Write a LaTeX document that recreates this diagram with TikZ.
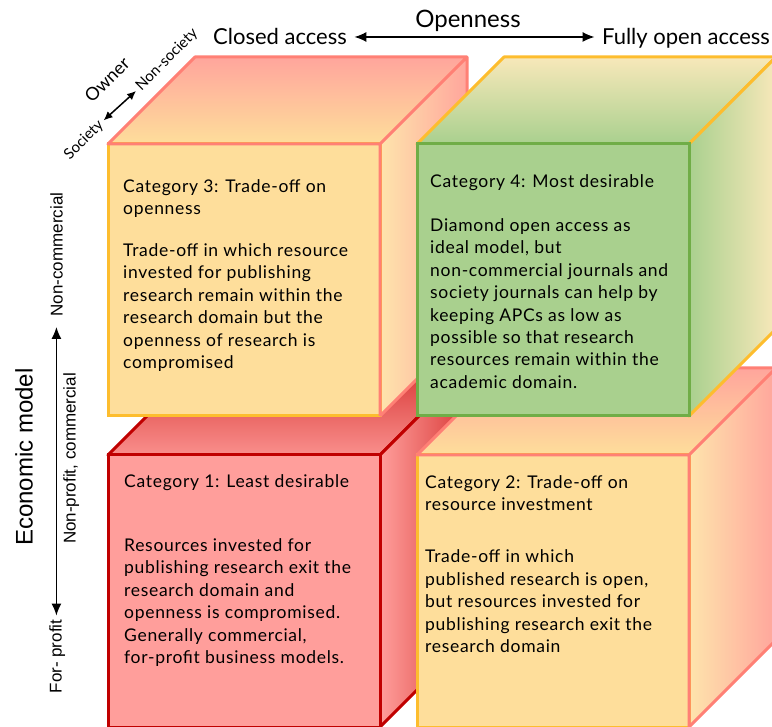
\documentclass[tikz,border=0pt]{standalone}
\usepackage{fontspec}
\setmainfont{Lato}
\newfontfamily\bodyfont[LetterSpace=4]{Lato}
\newfontfamily\arialfont{Liberation Sans}
\usetikzlibrary{positioning,arrows.meta}

\definecolor{gold}{HTML}{FDBD2E}
\definecolor{salmon}{HTML}{FF8075}
\definecolor{leaf}{HTML}{70AD47}
\definecolor{wine}{HTML}{C00000}
\definecolor{sand}{HTML}{FEDE9B}
\definecolor{cream}{HTML}{FEEEC6}
\definecolor{blush}{HTML}{FFA59C}
\definecolor{sage}{HTML}{A9D08E}
\definecolor{mint}{HTML}{CDE3B6}
\definecolor{straw}{HTML}{F8E8BA}
\definecolor{rose}{HTML}{FF9E9B}
\definecolor{crimson}{HTML}{D93A38}

\tikzset{
  face/.style={minimum width=272pt, minimum height=272pt, line width=3pt, outer sep=0pt, inner sep=0pt, anchor=north west},
  txt/.style={align=left, inner sep=0pt, font=\bodyfont\fontsize{17.5}{22.4}\selectfont},
  toplabel/.style={font=\fontsize{22}{26}\selectfont, anchor=base},
  vlabel/.style={font=\arialfont\fontsize{17}{20}\selectfont, rotate=90, anchor=base},
  owner/.style={font=\fontsize{15}{18}\selectfont, rotate=45},
  twoway/.style={{Latex[length=12pt,width=10pt]}-{Latex[length=12pt,width=10pt]}, line width=1.5pt},
  rim/.style={draw=salmon, line width=3pt, line join=round},
}

\begin{document}
\begin{tikzpicture}[x=1pt, y=-1pt]
\useasboundingbox (0,0) rectangle (772,727);

% openness axis
\node (openness) [toplabel, font=\fontsize{24}{28}\selectfont] at (468,28) {Openness};
\node (closed) [toplabel] at (280,45) {Closed access};
\node (fullyopen) [toplabel] at (686,45) {Fully open access};
\draw[twoway, shorten <=4pt, shorten >=4pt] (closed.east) -- (fullyopen.west |- closed.east);

% owner axis
\node (owner) [owner, font=\fontsize{18}{21}\selectfont] at (107,80) {Owner};
\node (society) [owner] at (84,140) {Society};
\node (nonsociety) [owner] at (167,60) {Non-society};
\draw[{Latex[length=9pt,width=8pt]}-{Latex[length=9pt,width=8pt]}, line width=1.5pt] (society.east) -- (nonsociety.west);

% economic model axis
\node (econ) [vlabel, font=\arialfont\fontsize{24}{28}\selectfont] at (32.5,457) {Economic model};
\node (noncom) [vlabel] at (62.5,254.5) {Non-commercial};
\node (nonprofit) [vlabel] at (75.5,458.5) {Non-profit, commercial};
\node (forprofit) [vlabel] at (61.7,656.5) {For- profit};
\draw[twoway, shorten <=7pt, shorten >=0.5pt] (noncom.west) -- (noncom.west |- forprofit.east);

% Category 1
\coordinate (c1) at (108,455);
\shade[top color=crimson, bottom color=rose!85!crimson, draw=wine, line width=3pt, line join=round] (c1) -- ++(87,-87) -- ++(272,0) -- ++(-87,87) -- cycle;
\shade[left color=rose, right color=crimson, draw=wine, line width=3pt, line join=round] ([xshift=272pt]c1) -- ++(87,-87) -- ++(0,272) -- ++(-87,87) -- cycle;
\node (cat1) [face, draw=wine, fill=rose] at (c1) {};
\node (cat1txt) [txt, below right=19pt and 16pt of cat1.north west] {Category 1: Least desirable\\[42pt]Resources invested for\\publishing research exit the\\research domain and\\openness is compromised.\\Generally commercial,\\for-profit business models.};

% Category 2
\coordinate (c2) at (417,455);
\shade[top color=blush, middle color=cream, bottom color=sand] (c2) -- ++(87,-87) -- ++(272,0) -- ++(-87,87) -- cycle;
\shade[left color=sand!60!cream, middle color=cream, right color=blush] ([xshift=272pt]c2) -- ++(87,-87) -- ++(0,272) -- ++(-87,87) -- cycle;
\node (cat2) [face, draw=gold, fill=sand] at (c2) {};
\draw[rim] (cat2.south east) -- (cat2.north east) -- (cat2.north west) -- ++(87,-87) -- ++(272,0) -- ++(0,272) -- (cat2.south east) (cat2.north east) -- ++(87,-87);
\node (cat2txt) [txt, below right=20pt and 8pt of cat2.north west] {Category 2: Trade-off on\\resource investment\\[30pt]Trade-off in which\\published research is open,\\but resources invested for\\publishing research exit the\\research domain};

% Category 3
\coordinate (c3) at (108,144);
\shade[top color=blush, middle color=cream, bottom color=sand] (c3) -- ++(87,-87) -- ++(272,0) -- ++(-87,87) -- cycle;
\shade[left color=sand!60!cream, middle color=cream, right color=blush] ([xshift=272pt]c3) -- ++(87,-87) -- ++(0,272) -- ++(-87,87) -- cycle;
\node (cat3) [face, draw=gold, fill=sand] at (c3) {};
\draw[rim] (cat3.south east) -- (cat3.north east) -- (cat3.north west) -- ++(87,-87) -- ++(272,0) -- ++(0,272) -- (cat3.south east) (cat3.north east) -- ++(87,-87);
\node (cat3txt) [txt, below right=35pt and 15pt of cat3.north west] {Category 3: Trade-off on\\openness\\[19.6pt]Trade-off in which resource\\invested for publishing\\research remain within the\\research domain but the\\openness of research is\\compromised};

% Category 4
\coordinate (c4) at (417,144);
\shade[top color=straw, bottom color=sage, draw=gold, line width=3pt, line join=round] (c4) -- ++(87,-87) -- ++(272,0) -- ++(-87,87) -- cycle;
\shade[left color=sage, middle color=mint, right color=straw, draw=gold, line width=3pt, line join=round] ([xshift=272pt]c4) -- ++(87,-87) -- ++(0,272) -- ++(-87,87) -- cycle;
\node (cat4) [face, draw=leaf, fill=sage] at (c4) {};
\node (cat4txt) [txt, below right=30pt and 13pt of cat4.north west] {Category 4: Most desirable\\[22pt]Diamond open access as\\ideal model, but\\non-commercial journals and\\society journals can help by\\keeping APCs as low as\\possible so that research\\resources remain within the\\academic domain.};
\end{tikzpicture}
\end{document}
